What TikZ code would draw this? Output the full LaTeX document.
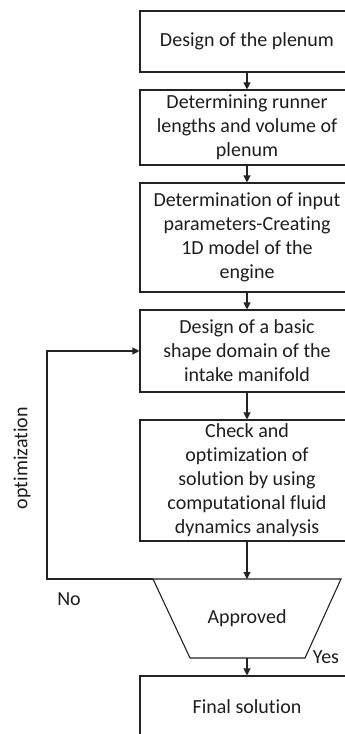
\documentclass[tikz,border=0pt]{standalone}
\usepackage{fontspec}
\setmainfont{Carlito}[Ligatures=NoCommon]
\usetikzlibrary{arrows.meta}
\definecolor{linec}{RGB}{35,35,35}
\definecolor{textc}{RGB}{30,30,30}
\begin{document}
\begin{tikzpicture}[x=1pt,y=-1pt,
  box/.style={draw=linec, line width=1.1pt, minimum width=214pt, align=center, inner sep=0pt, text=textc, font=\fontsize{20}{24}\selectfont},
  arr/.style={draw=linec, line width=1.1pt, -{Triangle[width=7pt,length=7pt]}},
  lbl/.style={text=textc, font=\fontsize{20}{24}\selectfont, inner sep=0pt},
  edge/.style={draw=linec, line width=1.1pt}]
\useasboundingbox (0,0) rectangle (345,734);
\clip (0,0) rectangle (345,734);
\fill[white] (0,0) rectangle (345,734);
\node[box, minimum height=61pt] (b1) at (247,41.5) {Design of the plenum};
\node[box, minimum height=75pt] (b2) at (247,127.5) {Determining runner\\lengths and volume of\\plenum};
\node[box, minimum height=109pt] (b3) at (247,237.5) {Determination of input\\parameters-Creating\\1D model of the\\engine};
\node[box, minimum height=82pt] (b4) at (247,351) {Design of a basic\\shape domain of the\\intake manifold};
\node[box, minimum height=121pt] (b5) at (247,480.5) {Check and\\optimization of\\solution by using\\computational fluid\\dynamics analysis};
\node[box, minimum height=62pt] (b6) at (247,707) {Final solution};
\coordinate (tl) at (153,579);
\coordinate (tr) at (341,579);
\coordinate (br) at (305,658);
\coordinate (bl) at (190,658);
\coordinate (tt) at (247,579);
\coordinate (tb) at (247,658);
\draw[edge, line join=miter] (tl) -- (tr) -- (br) -- (bl) -- cycle;
\node[lbl] (appr) at (247,618) {Approved};
\draw[arr] (b1.south) -- (b2.north);
\draw[arr] (b2.south) -- (b3.north);
\draw[arr] (b3.south) -- (b4.north);
\draw[arr] (b4.south) -- (b5.north);
\draw[arr] (b5.south) -- (tt);
\draw[arr] (tb) -- (b6.north);
\coordinate (fc) at (47,579);
\draw[arr] (tl) -- (fc) |- (b4.west);
\node[lbl, rotate=90] (opt) at (22,458) {optimization};
\node[lbl] (no) at (69,599) {No};
\node[lbl] (yes) at (326,657) {Yes};
\end{tikzpicture}
\end{document}
